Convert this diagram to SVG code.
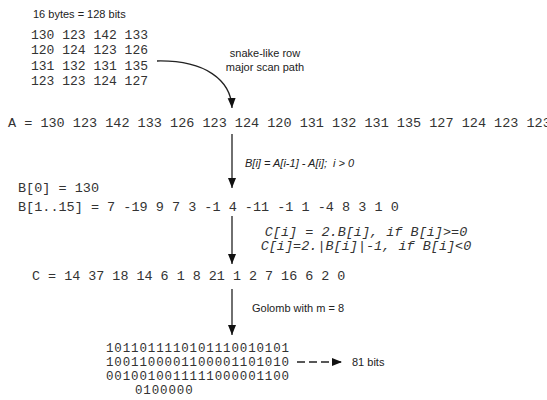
<svg xmlns="http://www.w3.org/2000/svg" width="547" height="400" viewBox="0 0 547 400">
<defs>
<marker id="ah" markerUnits="userSpaceOnUse" markerWidth="10" markerHeight="10" refX="10" refY="4" orient="auto">
<path d="M0,0 L10,4 L0,8 z" fill="#111"/>
</marker>
<style>
.mono{font-family:"Liberation Mono","Courier New",monospace;fill:#333;}
.sans{font-family:"Liberation Sans",Arial,sans-serif;fill:#222;font-size:11px;}
.ital{font-style:italic;}
.pre{white-space:pre;}
.bit{font-size:12.5px;letter-spacing:0.86px;}
.ln{stroke:#222;stroke-width:1.3;fill:none;}
</style>
</defs>
<rect width="547" height="400" fill="#fff"/>
<g id="matrix">
<text class="sans" x="33" y="18">16 bytes = 128 bits</text>
<text class="mono" font-size="13" x="31" y="39">130 123 142 133</text>
<text class="mono" font-size="13" x="31" y="54">120 124 123 126</text>
<text class="mono" font-size="13" x="31" y="70">131 132 131 135</text>
<text class="mono" font-size="13" x="31" y="85">123 123 124 127</text>
</g>
<g id="scan-label">
<text class="sans" x="265" y="57" text-anchor="middle">snake-like row</text>
<text class="sans" x="265" y="71" text-anchor="middle">major scan path</text>
</g>
<g id="seqA">
<text class="mono" font-size="13.5" x="8" y="127">A = 130 123 142 133 126 123 124 120 131 132 131 135 127 124 123 123</text>
</g>
<g id="diff-label">
<text class="sans ital pre" font-size="12.5" x="245" y="167">B[i] = A[i-1] - A[i];  i &gt; 0</text>
</g>
<g id="seqB">
<text class="mono" font-size="13.5" x="18" y="192">B[0] = 130</text>
<text class="mono" font-size="13.5" x="18" y="211">B[1..15] = 7 -19 9 7 3 -1 4 -11 -1 1 -4 8 3 1 0</text>
</g>
<g id="map-label">
<text class="mono ital" font-size="13.5" x="366" y="236" text-anchor="middle">C[i] = 2.B[i], if B[i]&gt;=0</text>
<text class="mono ital" font-size="13.5" x="366" y="250" text-anchor="middle">C[i]=2.|B[i]|-1, if B[i]&lt;0</text>
</g>
<g id="seqC">
<text class="mono" font-size="13.4" x="32" y="280">C = 14 37 18 14 6 1 8 21 1 2 7 16 6 2 0</text>
</g>
<g id="golomb-label">
<text class="sans" font-size="11.5" x="252" y="312">Golomb with m = 8</text>
</g>
<g id="bits">
<text class="mono bit" x="106" y="352">1011011110101110010101</text>
<text class="mono bit" x="106" y="366">1001100001100001101010</text>
<text class="mono bit" x="106" y="380">0010010011111000001100</text>
<text class="mono bit" x="135" y="394">0100000</text>
</g>
<g id="total">
<text class="sans" x="352" y="366">81 bits</text>
</g>
<g id="connectors">
<path class="ln" d="M157,61 C205,60 231,80 232,108" marker-end="url(#ah)"/>
<line class="ln" x1="232" y1="134" x2="232" y2="188" marker-end="url(#ah)"/>
<line class="ln" x1="232" y1="216" x2="232" y2="264" marker-end="url(#ah)"/>
<line class="ln" x1="232" y1="289" x2="232" y2="335" marker-end="url(#ah)"/>
<line class="ln" x1="297" y1="362" x2="342" y2="362" stroke-dasharray="8,4" marker-end="url(#ah)"/>
</g>
</svg>
